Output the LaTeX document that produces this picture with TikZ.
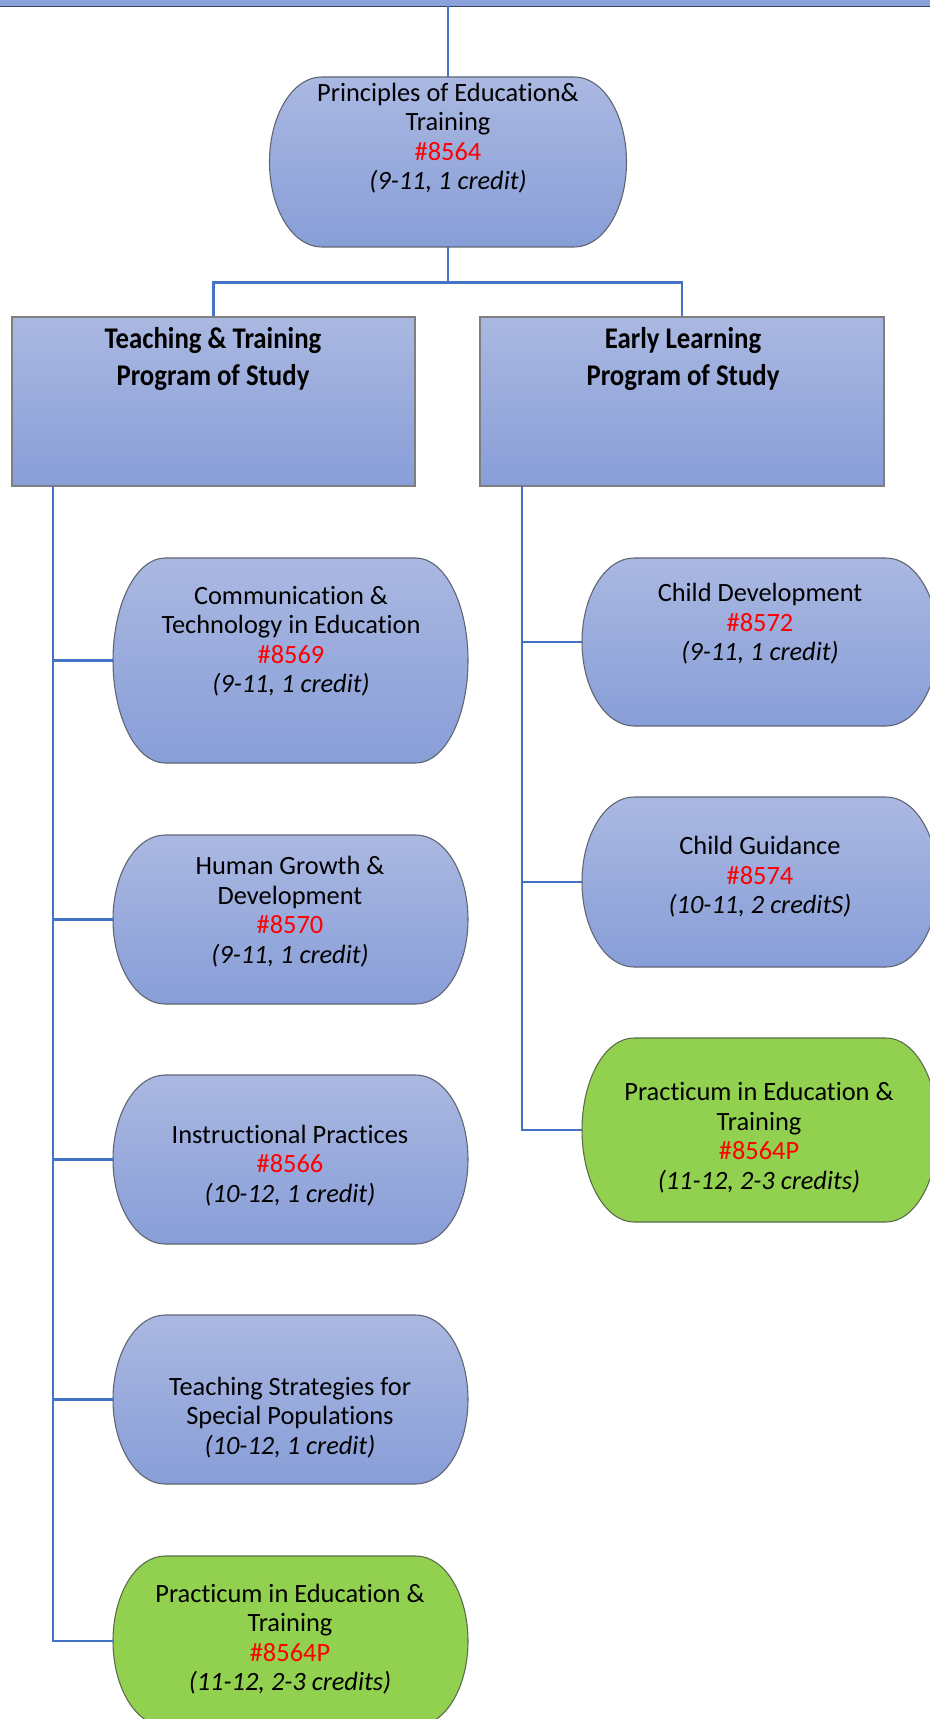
\documentclass[tikz,border=0pt]{standalone}
\usepackage{fontspec}
\setmainfont{Carlito}[Ligatures={NoCommon}]
\usetikzlibrary{calc}
\definecolor{connblue}{HTML}{4472C4}
\definecolor{bluetop}{HTML}{AAB8E1}
\definecolor{bluebot}{HTML}{889ED8}
\definecolor{greenfill}{HTML}{92D050}
\definecolor{edgegray}{HTML}{5E6470}
\definecolor{edgegreen}{HTML}{5A6B48}
\definecolor{txtred}{HTML}{FF0000}
\definecolor{barblue}{HTML}{8CA2DB}
\definecolor{bardark}{HTML}{3B4566}
\definecolor{boxedge}{HTML}{7F7F7F}
\tikzset{
  conn/.style={draw=connblue, line width=1.9pt},
  bluefill/.style={top color=bluetop, bottom color=bluebot, draw=edgegray, line width=0.8pt},
  greenst/.style={fill=greenfill, draw=edgegreen, line width=0.8pt},
  txt/.style={align=center, inner sep=0pt, font=\fontsize{19.8pt}{22.1pt}\selectfont},
  head/.style={align=center, inner sep=0pt, font=\fontsize{20.1pt}{27.75pt}\selectfont\bfseries},
  boxst/.style={rectangle, top color=bluetop, bottom color=bluebot, draw=boxedge, line width=0.8pt, inner sep=0pt},
  anchorbox/.style={rectangle, draw=none, inner sep=0pt},
}
% terminator shape: name, cx, cy (px, downwards), w, h, style
\newcommand{\termnode}[6]{%
  \pgfmathsetmacro\tmL{#2-#4/2}%
  \pgfmathsetmacro\tmR{#2+#4/2}%
  \pgfmathsetmacro\tmT{-(#3-#5/2)}%
  \pgfmathsetmacro\tmB{-(#3+#5/2)}%
  \pgfmathsetmacro\tmH{#5/2}%
  \path[#6] (\tmL+52,\tmT) -- (\tmR-52,\tmT)
     arc[start angle=90,end angle=-90,x radius=52,y radius=\tmH]
     -- (\tmL+52,\tmB)
     arc[start angle=270,end angle=90,x radius=52,y radius=\tmH] -- cycle;
  \node[anchorbox, minimum width=#4*0.75pt, minimum height=#5*0.75pt] (#1) at (#2,-#3) {};
}
\newcommand{\cnum}[1]{\textcolor{txtred}{\##1}}
\newcommand{\tallhead}[1]{\scalebox{1}[1.12]{#1}}
\begin{document}
\begin{tikzpicture}[x=0.75pt,y=0.75pt]
\useasboundingbox (0,0) rectangle (930,-1719);

% top bar
\node[anchorbox, fill=barblue, minimum width=930*0.75pt, minimum height=6*0.75pt] (bar) at (465,-3) {};
\draw[bardark, line width=1.1pt] (bar.south west) -- (bar.south east);

% top node
\termnode{top}{448}{162}{357}{170}{bluefill}
\node[txt] (topt) at (448,-138) {Principles of Education\&\\Training\\\cnum{8564}\\\textit{(9-11, 1 credit)}};

% program boxes
\node[boxst, minimum width=403*0.75pt, minimum height=169*0.75pt] (lbox) at (213.5,-401.5) {};
\node[boxst, minimum width=404*0.75pt, minimum height=169*0.75pt] (rbox) at (682,-401.5) {};
\node[head] (lboxt) at (213,-359) {\tallhead{Teaching \& Training}\\\tallhead{Program of Study}};
\node[head] (rboxt) at (683,-359) {\tallhead{Early Learning}\\\tallhead{Program of Study}};

% left column
\termnode{c1}{290.5}{660.5}{355}{205}{bluefill}
\node[txt] (c1t) at (291,-641) {Communication \&\\Technology in Education\\\cnum{8569}\\\textit{(9-11, 1 credit)}};
\termnode{c2}{290.5}{919.5}{355}{169}{bluefill}
\node[txt] (c2t) at (290,-911.5) {Human Growth \&\\Development\\\cnum{8570}\\\textit{(9-11, 1 credit)}};
\termnode{c3}{290.5}{1159.5}{355}{169}{bluefill}
\node[txt] (c3t) at (290,-1165.5) {Instructional Practices\\\cnum{8566}\\\textit{(10-12, 1 credit)}};
\termnode{c4}{290.5}{1399.5}{355}{169}{bluefill}
\node[txt] (c4t) at (290,-1417.5) {Teaching Strategies for\\Special Populations\\\textit{(10-12, 1 credit)}};
\termnode{c5}{290.5}{1641}{355}{170}{greenst}
\node[txt] (c5t) at (290,-1639) {Practicum in Education \&\\Training\\\cnum{8564P}\\\textit{(11-12, 2-3 credits)}};

% right column
\termnode{d1}{760}{642}{356}{168}{bluefill}
\node[txt] (d1t) at (760,-624) {Child Development\\\cnum{8572}\\\textit{(9-11, 1 credit)}};
\termnode{d2}{760}{882}{356}{170}{bluefill}
\node[txt] (d2t) at (760,-877) {Child Guidance\\\cnum{8574}\\\textit{(10-11, 2 creditS)}};
\termnode{d3}{760}{1130}{356}{184}{greenst}
\node[txt] (d3t) at (759,-1137.5) {Practicum in Education \&\\Training\\\cnum{8564P}\\\textit{(11-12, 2-3 credits)}};

% connectors
\coordinate (barlink) at (448,-6);
\coordinate (split) at (448,-282.5);
\coordinate (ltrunk) at (53,-486);
\coordinate (rtrunk) at (522,-486);
\draw[conn] (barlink) -- (top.north);
\draw[conn] (top.south) -- (split) -| (lbox.north);
\draw[conn] (split) -| (rbox.north);
\foreach \n in {c1,c2,c3,c4,c5} {\draw[conn] (ltrunk) |- (\n.west);}
\foreach \n in {d1,d2,d3} {\draw[conn] (rtrunk) |- (\n.west);}
\end{tikzpicture}
\end{document}
